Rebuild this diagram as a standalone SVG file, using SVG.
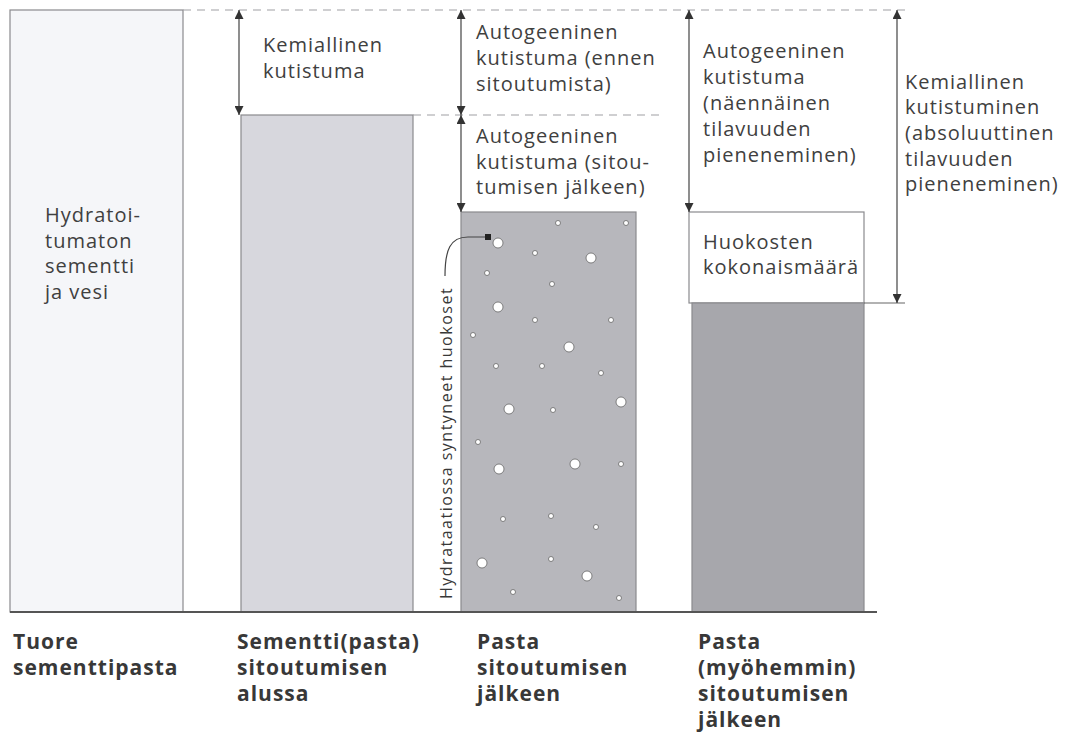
<svg xmlns="http://www.w3.org/2000/svg" width="1068" height="736" viewBox="0 0 1068 736">
<defs>
<marker id="ah" viewBox="0 0 10 10" refX="10" refY="5" markerWidth="9" markerHeight="9" markerUnits="userSpaceOnUse" orient="auto-start-reverse">
<path d="M0,0 L10,5 L0,10 Z" fill="#333"/>
</marker>
<marker id="dot" viewBox="0 0 10 10" refX="5" refY="5" markerWidth="6" markerHeight="6" markerUnits="userSpaceOnUse">
<rect x="0" y="0" width="10" height="10" fill="#222"/>
</marker>
</defs>
<style>
.t{font-family:"Open Sans","Noto Sans",sans-serif;font-size:20px;letter-spacing:1px;fill:#404040}
.b{font-family:"Open Sans","Noto Sans",sans-serif;font-size:21px;font-weight:bold;letter-spacing:1px;fill:#383838}
.v{font-family:"Open Sans","Noto Sans",sans-serif;font-size:16px;letter-spacing:1.5px;fill:#383838}
.col{stroke:#8a8a8e;stroke-width:1.2}
.dash{stroke:#a0a0a4;stroke-width:1.2;stroke-dasharray:8 6;fill:none}
.dim{stroke:#444;stroke-width:1.2;fill:none;marker-start:url(#ah);marker-end:url(#ah)}
.pore{fill:#fff;stroke:#666;stroke-width:0.8}
</style>
<rect width="1068" height="736" fill="#fff"/>

<g id="col1">
<rect class="col" x="10" y="10" width="173" height="602" fill="#f5f6f9"/>
<text class="t"><tspan x="45" y="222">Hydratoi-</tspan><tspan x="45" y="248">tumaton</tspan><tspan x="45" y="273">sementti</tspan><tspan x="45" y="299">ja vesi</tspan></text>
</g>

<g id="col2">
<rect class="col" x="241" y="115" width="172" height="497" fill="#d7d7dd"/>
</g>

<g id="col3">
<rect class="col" x="461" y="212" width="175" height="400" fill="#b7b7bc"/>
<g>
<circle class="pore" cx="558" cy="223" r="2.5"/>
<circle class="pore" cx="626" cy="223" r="2.5"/>
<circle class="pore" cx="498" cy="243" r="5"/>
<circle class="pore" cx="535" cy="253" r="2.5"/>
<circle class="pore" cx="591" cy="258" r="5"/>
<circle class="pore" cx="487" cy="273" r="2.5"/>
<circle class="pore" cx="552" cy="284" r="2.5"/>
<circle class="pore" cx="498" cy="307" r="5"/>
<circle class="pore" cx="535" cy="320" r="2.5"/>
<circle class="pore" cx="611" cy="320" r="2.5"/>
<circle class="pore" cx="473" cy="335" r="2.5"/>
<circle class="pore" cx="569" cy="347" r="5"/>
<circle class="pore" cx="496" cy="366" r="2.5"/>
<circle class="pore" cx="542" cy="366" r="2.5"/>
<circle class="pore" cx="601" cy="373" r="2.5"/>
<circle class="pore" cx="509" cy="409" r="5"/>
<circle class="pore" cx="553" cy="410" r="2.5"/>
<circle class="pore" cx="621" cy="402" r="5"/>
<circle class="pore" cx="478" cy="442" r="2.5"/>
<circle class="pore" cx="499" cy="469" r="5"/>
<circle class="pore" cx="575" cy="464" r="5"/>
<circle class="pore" cx="621" cy="464" r="2.5"/>
<circle class="pore" cx="503" cy="519" r="2.5"/>
<circle class="pore" cx="551" cy="516" r="2.5"/>
<circle class="pore" cx="596" cy="527" r="2.5"/>
<circle class="pore" cx="482" cy="563" r="5"/>
<circle class="pore" cx="551" cy="559" r="2.5"/>
<circle class="pore" cx="587" cy="576" r="5"/>
<circle class="pore" cx="513" cy="592" r="2.5"/>
<circle class="pore" cx="619" cy="598" r="2.5"/>
</g>
<text class="v" transform="translate(452,599) rotate(-90)">Hydrataatiossa syntyneet huokoset</text>
</g>

<g id="col4">
<rect class="col" x="689" y="212" width="175" height="91" fill="#fff"/>
<rect class="col" x="692" y="303" width="172" height="309" fill="#a7a7ac"/>
<text class="t"><tspan x="703" y="249">Huokosten</tspan><tspan x="703" y="274">kokonaismäärä</tspan></text>
</g>

<g id="connectors">
<line class="dash" x1="183" y1="10" x2="905" y2="10"/>
<line class="dash" x1="413" y1="115" x2="660" y2="115"/>
<line x1="864" y1="303" x2="905" y2="303" stroke="#666" stroke-width="1.2"/>
<line class="dim" x1="239" y1="10" x2="239" y2="115"/>
<line class="dim" x1="461" y1="10" x2="461" y2="115"/>
<line class="dim" x1="461" y1="115" x2="461" y2="212"/>
<line class="dim" x1="689" y1="10" x2="689" y2="212"/>
<line class="dim" x1="897" y1="10" x2="897" y2="303"/>
<path d="M445,276 C445,250 450,237 468,237 L488,237" stroke="#444" stroke-width="1.2" fill="none" marker-end="url(#dot)"/>
</g>

<g id="labels">
<text class="t"><tspan x="263" y="52">Kemiallinen</tspan><tspan x="263" y="78">kutistuma</tspan></text>
<text class="t"><tspan x="476" y="39">Autogeeninen</tspan><tspan x="476" y="65">kutistuma (ennen</tspan><tspan x="476" y="91">sitoutumista)</tspan></text>
<text class="t"><tspan x="476" y="143">Autogeeninen</tspan><tspan x="476" y="169">kutistuma (sitou-</tspan><tspan x="476" y="194">tumisen jälkeen)</tspan></text>
<text class="t"><tspan x="703" y="58">Autogeeninen</tspan><tspan x="703" y="84">kutistuma</tspan><tspan x="703" y="110">(näennäinen</tspan><tspan x="703" y="136">tilavuuden</tspan><tspan x="703" y="162">pieneneminen)</tspan></text>
<text class="t"><tspan x="905" y="89">Kemiallinen</tspan><tspan x="905" y="114">kutistuminen</tspan><tspan x="905" y="140">(absoluuttinen</tspan><tspan x="905" y="166">tilavuuden</tspan><tspan x="905" y="191">pieneneminen)</tspan></text>
</g>

<line x1="10" y1="612" x2="877" y2="612" stroke="#555" stroke-width="2"/>

<g id="bottom-labels">
<text class="b"><tspan x="13" y="649">Tuore</tspan><tspan x="13" y="675">sementtipasta</tspan></text>
<text class="b"><tspan x="237" y="649">Sementti(pasta)</tspan><tspan x="237" y="675">sitoutumisen</tspan><tspan x="237" y="701">alussa</tspan></text>
<text class="b"><tspan x="477" y="649">Pasta</tspan><tspan x="477" y="675">sitoutumisen</tspan><tspan x="477" y="701">jälkeen</tspan></text>
<text class="b"><tspan x="698" y="649">Pasta</tspan><tspan x="698" y="675">(myöhemmin)</tspan><tspan x="698" y="701">sitoutumisen</tspan><tspan x="698" y="727">jälkeen</tspan></text>
</g>
</svg>
